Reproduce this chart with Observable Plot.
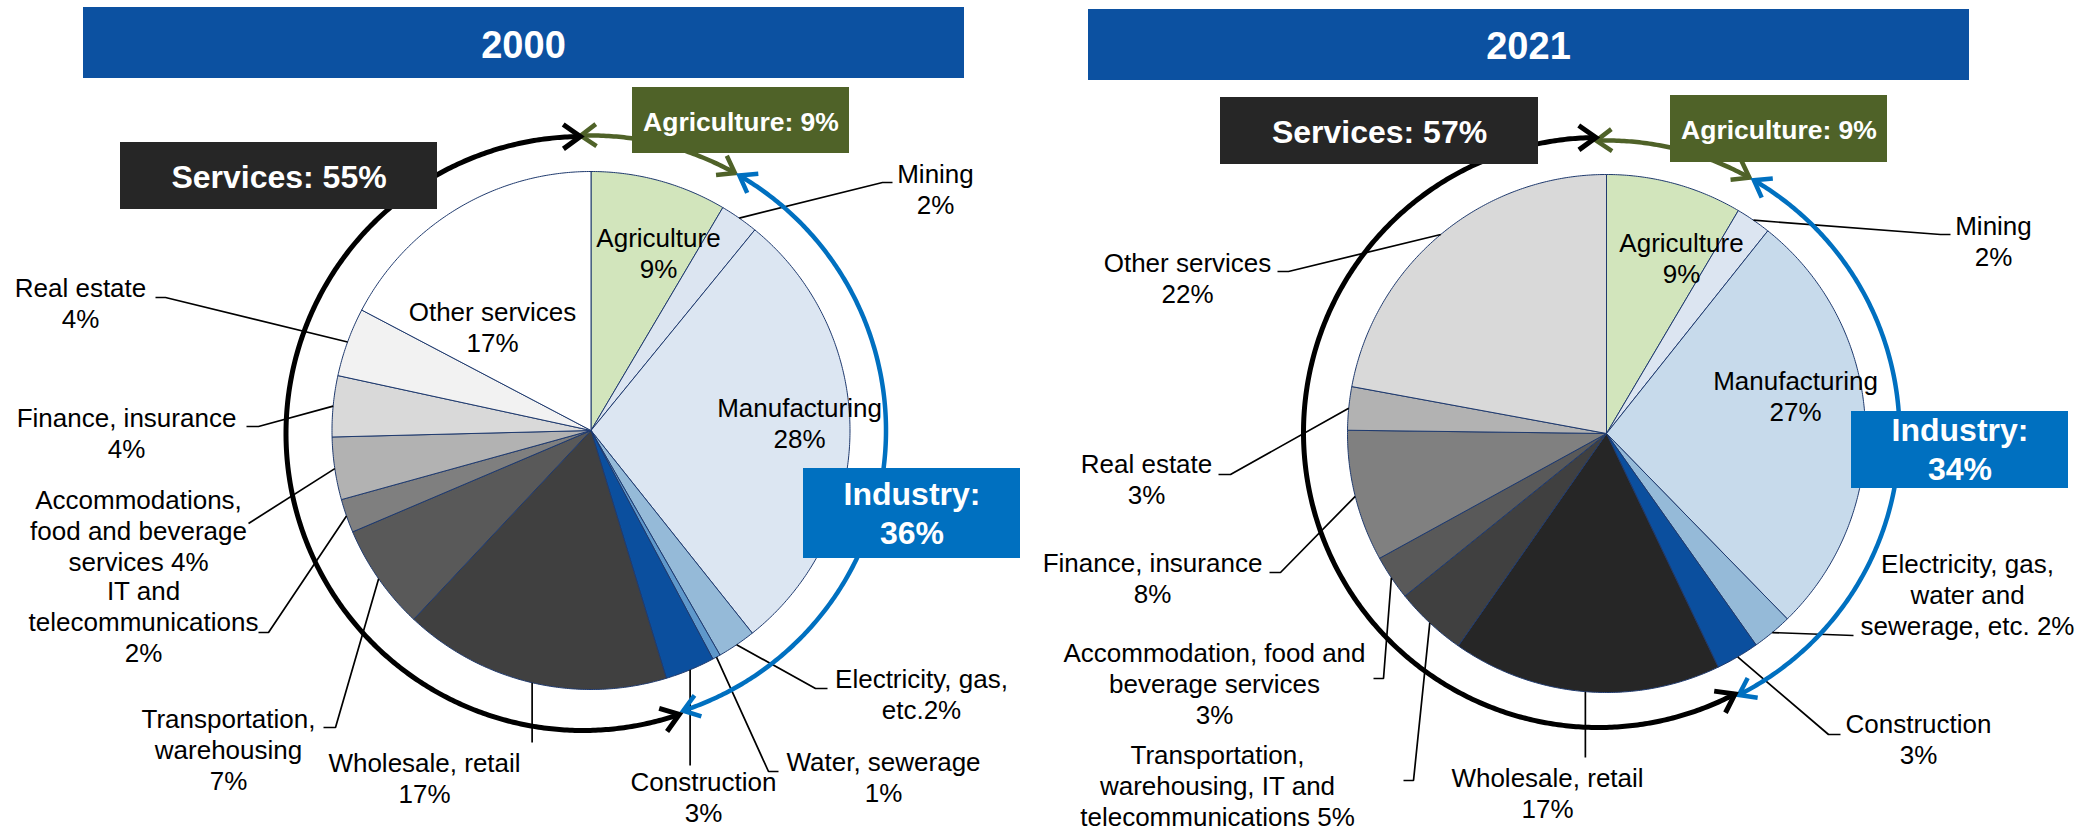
<!DOCTYPE html>
<html><head><meta charset="utf-8">
<script src="https://cdn.jsdelivr.net/npm/d3@7"></script>
<script src="https://cdn.jsdelivr.net/npm/@observablehq/plot@0.6"></script>
<style>html,body{margin:0;padding:0;background:#fff;} svg{display:block;}</style>
</head><body><div id="chart"></div>
<script>
// ---------------- DATA ----------------
const years = ["2000", "2021"];
const groupNames = ["Services", "Agriculture", "Industry"];
const groupShares2000 = [55, 9, 36];
const groupShares2021 = [57, 9, 34];

const categories2000 = ["Agriculture", "Mining", "Manufacturing", "Electricity, gas, etc.", "Water, sewerage",
  "Construction", "Wholesale, retail", "Transportation, warehousing", "IT and telecommunications",
  "Accommodations, food and beverage services", "Finance, insurance", "Real estate", "Other services"];
const sectorGroup2000 = ["Agriculture", "Industry", "Industry", "Industry", "Industry", "Industry",
  "Services", "Services", "Services", "Services", "Services", "Services", "Services"];
const shares2000 = [8.5, 2.4, 28.4, 2.4, 0.5, 3.1, 16.7, 6.6, 2.1, 3.9, 3.8, 4.3, 17.3];
const pctLabels2000 = [9, 2, 28, 2, 1, 3, 17, 7, 2, 4, 4, 4, 17];
const labelText2000 = ["Agriculture\n{p}%", "Mining\n{p}%", "Manufacturing\n{p}%", "Electricity, gas,\netc.{p}%",
  "Water, sewerage\n{p}%", "Construction\n{p}%", "Wholesale, retail\n{p}%", "Transportation,\nwarehousing\n{p}%",
  "IT and\ntelecommunications\n{p}%", "Accommodations,\nfood and beverage\nservices {p}%",
  "Finance, insurance\n{p}%", "Real estate\n{p}%", "Other services\n{p}%"];

const categories2021 = ["Agriculture", "Mining", "Manufacturing", "Electricity, gas, water and sewerage, etc.",
  "Construction", "Wholesale, retail", "Transportation, warehousing, IT and telecommunications",
  "Accommodation, food and beverage services", "Finance, insurance", "Real estate", "Other services"];
const sectorGroup2021 = ["Agriculture", "Industry", "Industry", "Industry", "Industry",
  "Services", "Services", "Services", "Services", "Services", "Services"];
const shares2021 = [8.5, 2.2, 27.0, 2.5, 2.7, 16.8, 4.5, 2.8, 8.2, 2.7, 22.1];
const pctLabels2021 = [9, 2, 27, 2, 3, 17, 5, 3, 8, 3, 22];
const labelText2021 = ["Agriculture\n{p}%", "Mining\n{p}%", "Manufacturing\n{p}%",
  "Electricity, gas,\nwater and\nsewerage, etc. {p}%", "Construction\n{p}%", "Wholesale, retail\n{p}%",
  "Transportation,\nwarehousing, IT and\ntelecommunications {p}%", "Accommodation, food and\nbeverage services\n{p}%",
  "Finance, insurance\n{p}%", "Real estate\n{p}%", "Other services\n{p}%"];

// ---------------- STYLES ----------------
const colors2000 = ["#d2e5bc", "#dce5f1", "#dce6f2", "#95bad8", "#5f98cb", "#0b4f9e", "#404040", "#595959",
  "#7f7f7f", "#b2b2b2", "#d9d9d9", "#f2f2f2", "#ffffff"];
const colors2021 = ["#d2e5bc", "#dce5f1", "#c7daeb", "#95bad8", "#0b4f9e", "#262626", "#404040", "#595959",
  "#808080", "#b2b2b2", "#d9d9d9"];
const groupColors = {Services: "#262626", Agriculture: "#4f6228", Industry: "#0070c0"};
const arcColors = {Services: "#000000", Agriculture: "#4f6228", Industry: "#0070c0"};
const bannerColor = "#0c51a1";
const sliceStroke = "#1f3a6e";
const FONT = "Liberation Sans, Arial, Helvetica, sans-serif";

// ---------------- LAYOUT (positions) ----------------
const W = 2081, H = 828;
const layout = [
  {
    cx: 590.5, cy: 430, r: 259, arcR: 295, blackDx: -8, blackDy: 3, blackR: 297,
    banner: [83, 7, 964, 78], title: [523, 57],
    boxes: {
      Services: [120, 142, 437, 209, 187, 32],
      Agriculture: [632, 87, 849, 153, 130, 26.5],
      Industry: [803, 468, 1020, 558, 543, 32]
    },
    labels: [
      {x: 658, y: 277},
      {x: 935, y: 213, leader: [[882, 182], [892, 182]]},
      {x: 799, y: 447},
      {x: 921, y: 718, leader: [[815, 688], [827, 688]]},
      {x: 883, y: 801, leader: [[768, 771], [778, 771]]},
      {x: 703, y: 821, leader: [[null, 765]]},
      {x: 424, y: 802, leader: [[null, 742]]},
      {x: 228, y: 789, leader: [[335, 727], [323, 727]]},
      {x: 143, y: 661, leader: [[268, 632], [258, 632]]},
      {x: 138, y: 570, leader: [[248, 523]]},
      {x: 126, y: 457, leader: [[258, 426], [246, 426]]},
      {x: 80, y: 327, leader: [[165, 297], [155, 297]]},
      {x: 492, y: 351}
    ]
  },
  {
    cx: 1606, cy: 433, r: 259, arcR: 293, blackDx: -8, blackDy: -1, blackR: 295,
    banner: [1088, 9, 1969, 80], title: [1528, 58],
    boxes: {
      Services: [1220, 97, 1538, 164, 142, 32],
      Agriculture: [1670, 95, 1887, 162, 138, 26.5],
      Industry: [1851, 411, 2068, 488, 479, 32]
    },
    labels: [
      {x: 1681, y: 282},
      {x: 1993, y: 265, leader: [[1940, 234], [1950, 234]]},
      {x: 1795, y: 420},
      {x: 1967, y: 634, leader: [[1853, 635]]},
      {x: 1918, y: 763, leader: [[1828, 734], [1840, 734]]},
      {x: 1547, y: 817, leader: [[null, 757]]},
      {x: 1217, y: 825, leader: [[1413, 780], [1403, 780]]},
      {x: 1214, y: 723, leader: [[1383, 678], [1373, 678]]},
      {x: 1152, y: 602, leader: [[1280, 572], [1269, 572]]},
      {x: 1146, y: 503, leader: [[1230, 474], [1218, 474]]},
      {x: 1187, y: 302, leader: [[1288, 271], [1277, 271]]}
    ]
  }
];

const panels = [
  {shares: shares2000, colors: colors2000, groups: sectorGroup2000, pct: pctLabels2000, texts: labelText2000, groupShares: groupShares2000},
  {shares: shares2021, colors: colors2021, groups: sectorGroup2021, pct: pctLabels2021, texts: labelText2021, groupShares: groupShares2021}
];

// ---------------- BUILD ----------------
function pt(cx, cy, r, deg) {
  const a = deg * Math.PI / 180;
  return {x: cx + r * Math.sin(a), y: cy - r * Math.cos(a)};
}
function arcPts(cx, cy, r, a0, a1) {
  const n = Math.max(2, Math.ceil(Math.abs(a1 - a0) / 0.5));
  return d3.range(n + 1).map(k => pt(cx, cy, r, a0 + (a1 - a0) * k / n));
}
function chevron(tip, dir, L, theta) {
  const bx = -dir[0], by = -dir[1];
  const rot = (t) => [bx * Math.cos(t) - by * Math.sin(t), bx * Math.sin(t) + by * Math.cos(t)];
  const a = rot(theta), b = rot(-theta);
  return [{x: tip.x + L * a[0], y: tip.y + L * a[1]}, tip, {x: tip.x + L * b[0], y: tip.y + L * b[1]}];
}

const marks = [];
layout.forEach((L, pi) => {
  const P = panels[pi];
  const total = d3.sum(P.shares);
  let acc = 0;
  const slices = P.shares.map((v, i) => {
    const a0 = acc / total * 360; acc += v; const a1 = acc / total * 360;
    return {i, a0, a1, mid: (a0 + a1) / 2, group: P.groups[i]};
  });

  // banner
  marks.push(Plot.rect([L.banner], {x1: d => d[0], y1: d => d[1], x2: d => d[2], y2: d => d[3], fill: bannerColor}));
  marks.push(Plot.text([years[pi]], {x: () => L.title[0], y: () => L.title[1], text: d => d, fill: "white",
    fontSize: 38, fontWeight: "bold", fontFamily: FONT, textAnchor: "middle", lineAnchor: "bottom"}));

  // slices
  slices.forEach(s => {
    const pts = [{x: L.cx, y: L.cy}, ...arcPts(L.cx, L.cy, L.r, s.a0, s.a1), {x: L.cx, y: L.cy}];
    marks.push(Plot.line(pts, {x: "x", y: "y", fill: P.colors[s.i], stroke: sliceStroke, strokeWidth: 1}));
  });

  // leaders
  slices.forEach(s => {
    const lab = L.labels[s.i];
    if (!lab.leader) return;
    const start = pt(L.cx, L.cy, L.r, s.mid);
    const pts = [start, ...lab.leader.map(p => ({x: p[0] == null ? start.x : p[0], y: p[1]}))];
    marks.push(Plot.line(pts, {x: "x", y: "y", stroke: "black", strokeWidth: 1.7, strokeLinejoin: "miter", strokeLinecap: "butt"}));
  });

  // group arcs
  const gRange = {};
  slices.forEach(s => {
    const g = gRange[s.group] || (gRange[s.group] = {a0: s.a0, a1: s.a1});
    g.a0 = Math.min(g.a0, s.a0); g.a1 = Math.max(g.a1, s.a1);
  });
  const arcs = [
    {group: "Agriculture", cx: L.cx, cy: L.cy, r: L.arcR, a0: gRange.Agriculture.a0 - 2, a1: gRange.Agriculture.a1 - 1.4, w: 4.5, head: 19},
    {group: "Industry", cx: L.cx, cy: L.cy, r: L.arcR, a0: gRange.Industry.a0 - 0.4, a1: gRange.Industry.a1 - 1.3, w: 4.5, head: 19},
    {group: "Services", cx: L.cx + L.blackDx, cy: L.cy + L.blackDy, r: L.blackR, a0: gRange.Services.a0 - 2, a1: gRange.Services.a1 - 0.5, w: 5, head: 21}
  ];
  arcs.forEach(A => {
    const pts = arcPts(A.cx, A.cy, A.r, A.a0, A.a1);
    const col = arcColors[A.group];
    marks.push(Plot.line(pts, {x: "x", y: "y", stroke: col, strokeWidth: A.w, strokeLinecap: "butt"}));
    const r0 = A.a0 * Math.PI / 180, r1 = A.a1 * Math.PI / 180;
    const hs = chevron(pts[0], [-Math.cos(r0), -Math.sin(r0)], A.head, 0.62);
    const he = chevron(pts[pts.length - 1], [Math.cos(r1), Math.sin(r1)], A.head, 0.62);
    [hs, he].forEach(h => marks.push(Plot.line(h, {x: "x", y: "y", stroke: col, strokeWidth: A.w, strokeLinejoin: "miter", strokeLinecap: "butt", strokeMiterlimit: 4})));
  });

  // group boxes
  groupNames.forEach((g, gi) => {
    const b = L.boxes[g];
    marks.push(Plot.rect([b], {x1: d => d[0], y1: d => d[1], x2: d => d[2], y2: d => d[3], fill: groupColors[g]}));
    const txt = g === "Industry" ? `${g}:\n${P.groupShares[gi]}%` : `${g}: ${P.groupShares[gi]}%`;
    marks.push(Plot.text([txt], {x: () => (b[0] + b[2]) / 2, y: () => b[4], text: d => d, fill: "white",
      fontSize: b[5], fontWeight: "bold", fontFamily: FONT, textAnchor: "middle", lineAnchor: "bottom", lineHeight: 1.19}));
  });

  // slice labels
  const labData = slices.map(s => ({
    x: L.labels[s.i].x, y: L.labels[s.i].y,
    text: P.texts[s.i].replace("{p}", P.pct[s.i])
  }));
  marks.push(Plot.text(labData, {x: "x", y: "y", text: "text", fill: "black", fontSize: 26, fontFamily: FONT,
    textAnchor: "middle", lineAnchor: "bottom", lineHeight: 1.19}));
});

const chart = Plot.plot({
  width: W, height: H,
  marginTop: 0, marginRight: 0, marginBottom: 0, marginLeft: 0,
  x: {domain: [0, W], range: [0, W], axis: null},
  y: {domain: [0, H], range: [0, H], axis: null},
  style: {background: "white", fontFamily: FONT, overflow: "visible"},
  marks
});
document.getElementById("chart").appendChild(chart);
</script>
</body></html>
